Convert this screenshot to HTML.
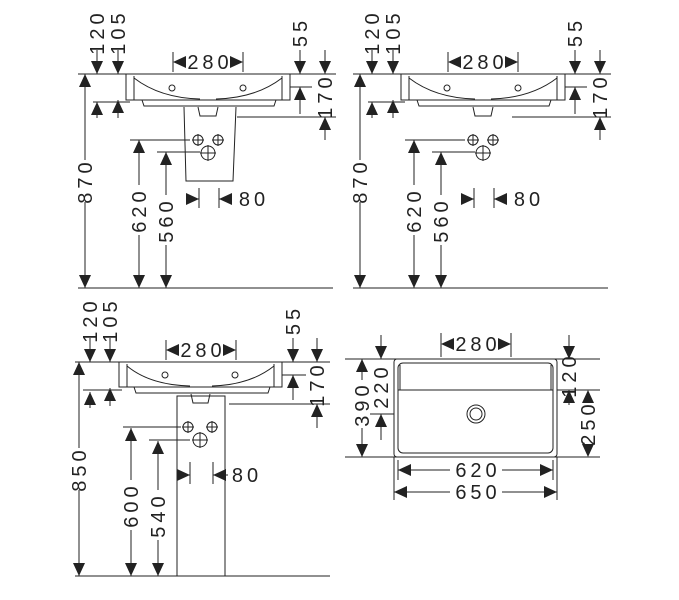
<!DOCTYPE html>
<html><head><meta charset="utf-8"><style>
html,body{margin:0;padding:0;background:#fff}
svg{display:block}
text{font-family:"Liberation Sans",sans-serif;font-size:20px;letter-spacing:4px;fill:#222}
</style></head><body>
<svg width="679" height="600" viewBox="0 0 679 600" xmlns="http://www.w3.org/2000/svg">
<defs>
<path id="a" d="M-6,-13 L6,-13 L0,0Z" fill="#222"/>
</defs>
<g stroke="#222" stroke-width="1" fill="none">
<g id="p1base">
<line x1="78" y1="74" x2="336" y2="74"/>
<rect x="126" y="74" width="164" height="26" fill="#fff"/>
<line x1="134" y1="76" x2="134" y2="100"/><line x1="282" y1="76" x2="282" y2="100"/>
<path d="M134,78 Q160,98 200,99 M282,78 Q256,98 216,99"/>
<path d="M142,100 L144,106 L274,106 L276,100"/>
<path d="M198,107 L200,116 L216,116 L218,107"/>
<circle cx="172" cy="88" r="3"/><circle cx="243" cy="88" r="3"/>
<line x1="93" y1="102" x2="130" y2="102"/>
<line x1="290" y1="87" x2="312" y2="87"/>
<line x1="237" y1="117" x2="336" y2="117"/>
<line x1="78" y1="288" x2="333" y2="288"/>
<line x1="130" y1="140" x2="190" y2="140"/>
<line x1="157" y1="152" x2="200" y2="152"/>
<circle cx="198" cy="140" r="5"/><path d="M192,140h12M198,134v12"/>
<circle cx="218" cy="140" r="5"/><path d="M212,140h12M218,134v12"/>
<circle cx="208" cy="153" r="7"/><path d="M200,153h16M208,145v16"/>
<line x1="199" y1="188" x2="199" y2="208"/><line x1="219" y1="188" x2="219" y2="208"/>
<line x1="187" y1="199" x2="199" y2="199"/><line x1="219" y1="199" x2="232" y2="199"/>
<line x1="173" y1="52" x2="173" y2="72"/><line x1="243" y1="52" x2="243" y2="72"/>
<line x1="97" y1="50" x2="97" y2="74"/><line x1="118" y1="50" x2="118" y2="74"/>
<line x1="97" y1="102" x2="97" y2="118"/><line x1="118" y1="100" x2="118" y2="118"/>
<line x1="300" y1="50" x2="300" y2="74"/><line x1="325" y1="50" x2="325" y2="74"/>
<line x1="300" y1="87" x2="300" y2="114"/><line x1="325" y1="117" x2="325" y2="140"/>
<line x1="85" y1="74" x2="85" y2="160"/><line x1="85" y1="202" x2="85" y2="288"/>
<line x1="139" y1="140" x2="139" y2="185"/><line x1="139" y1="235" x2="139" y2="288"/>
<line x1="166" y1="152" x2="166" y2="195"/><line x1="166" y1="245" x2="166" y2="288"/>
</g>
<path d="M184,107 L186,181 L233,181 L236,107"/>
<use href="#p1base" transform="translate(275,0)"/>
<line x1="75" y1="362" x2="330" y2="362"/>
<rect x="119" y="362" width="163" height="25" fill="#fff"/>
<line x1="127" y1="364" x2="127" y2="387"/><line x1="274" y1="364" x2="274" y2="387"/>
<path d="M127,366 Q150,385 190,386 M274,366 Q250,385 212,386"/>
<path d="M134,387 L136,393 L268,393 L270,387"/>
<path d="M191,394 L193,403 L208,403 L210,394"/>
<circle cx="165" cy="375" r="3"/><circle cx="235" cy="375" r="3"/>
<rect x="177" y="396" width="48" height="180" fill="none"/>
<line x1="75" y1="576" x2="330" y2="576"/>
<line x1="83" y1="390" x2="122" y2="390"/>
<line x1="282" y1="375" x2="306" y2="375"/>
<line x1="229" y1="404" x2="330" y2="404"/>
<line x1="123" y1="427" x2="181" y2="427"/>
<line x1="149" y1="440" x2="190" y2="440"/>
<circle cx="188" cy="427" r="5"/><path d="M182,427h12M188,421v12"/>
<circle cx="212" cy="427" r="5"/><path d="M206,427h12M212,421v12"/>
<circle cx="200" cy="440" r="7"/><path d="M192,440h16M200,432v16"/>
<line x1="190" y1="462" x2="190" y2="484"/><line x1="213" y1="462" x2="213" y2="484"/>
<line x1="178" y1="475" x2="190" y2="475"/><line x1="213" y1="475" x2="228" y2="475"/>
<line x1="166" y1="340" x2="166" y2="360"/><line x1="236" y1="340" x2="236" y2="360"/>
<line x1="90" y1="338" x2="90" y2="362"/><line x1="110" y1="338" x2="110" y2="362"/>
<line x1="90" y1="392" x2="90" y2="408"/><line x1="110" y1="388" x2="110" y2="406"/>
<line x1="293" y1="338" x2="293" y2="362"/><line x1="317" y1="338" x2="317" y2="362"/>
<line x1="293" y1="375" x2="293" y2="400"/><line x1="317" y1="404" x2="317" y2="428"/>
<line x1="79" y1="362" x2="79" y2="448"/><line x1="79" y1="490" x2="79" y2="576"/>
<line x1="131" y1="428" x2="131" y2="480"/><line x1="131" y1="530" x2="131" y2="576"/>
<line x1="158" y1="441" x2="158" y2="490"/><line x1="158" y1="540" x2="158" y2="576"/>
<rect x="394" y="359" width="163" height="98" rx="3"/>
<rect x="398" y="363" width="155" height="90" rx="5"/>
<line x1="398" y1="390" x2="553" y2="390"/>
<line x1="400" y1="365" x2="400" y2="390"/><line x1="551" y1="365" x2="551" y2="390"/>
<circle cx="476" cy="414" r="9"/><circle cx="476" cy="414" r="6"/>
<line x1="345" y1="359" x2="600" y2="359"/>
<line x1="345" y1="457" x2="600" y2="457"/>
<line x1="557" y1="390" x2="600" y2="390"/>
<line x1="370" y1="414" x2="394" y2="414"/>
<line x1="441" y1="333" x2="441" y2="357"/><line x1="511" y1="333" x2="511" y2="357"/>
<line x1="394" y1="457" x2="394" y2="500"/><line x1="557" y1="457" x2="557" y2="500"/>
<line x1="398" y1="460" x2="398" y2="480"/><line x1="553" y1="460" x2="553" y2="480"/>
<line x1="398" y1="470" x2="450" y2="470"/><line x1="502" y1="470" x2="553" y2="470"/>
<line x1="394" y1="492" x2="450" y2="492"/><line x1="502" y1="492" x2="557" y2="492"/>
<line x1="362" y1="359" x2="362" y2="380"/><line x1="362" y1="428" x2="362" y2="457"/>
<line x1="381" y1="335" x2="381" y2="359"/><line x1="381" y1="414" x2="381" y2="440"/>
<line x1="569" y1="335" x2="569" y2="359"/><line x1="569" y1="390" x2="569" y2="405"/>
</g>
<g>
<use href="#a" transform="translate(97,74)"/><use href="#a" transform="translate(118,74)"/>
<use href="#a" transform="translate(97,102) rotate(180)"/><use href="#a" transform="translate(118,100) rotate(180)"/>
<use href="#a" transform="translate(173,62) rotate(90)"/><use href="#a" transform="translate(243,62) rotate(-90)"/>
<use href="#a" transform="translate(300,74)"/><use href="#a" transform="translate(325,74)"/>
<use href="#a" transform="translate(300,87) rotate(180)"/><use href="#a" transform="translate(325,117) rotate(180)"/>
<use href="#a" transform="translate(85,74) rotate(180)"/><use href="#a" transform="translate(85,288)"/>
<use href="#a" transform="translate(139,140) rotate(180)"/><use href="#a" transform="translate(139,288)"/>
<use href="#a" transform="translate(166,152) rotate(180)"/><use href="#a" transform="translate(166,288)"/>
<use href="#a" transform="translate(199,199) rotate(-90)"/><use href="#a" transform="translate(219,199) rotate(90)"/>
<g transform="translate(275,0)">
<use href="#a" transform="translate(97,74)"/><use href="#a" transform="translate(118,74)"/>
<use href="#a" transform="translate(97,102) rotate(180)"/><use href="#a" transform="translate(118,100) rotate(180)"/>
<use href="#a" transform="translate(173,62) rotate(90)"/><use href="#a" transform="translate(243,62) rotate(-90)"/>
<use href="#a" transform="translate(300,74)"/><use href="#a" transform="translate(325,74)"/>
<use href="#a" transform="translate(300,87) rotate(180)"/><use href="#a" transform="translate(325,117) rotate(180)"/>
<use href="#a" transform="translate(85,74) rotate(180)"/><use href="#a" transform="translate(85,288)"/>
<use href="#a" transform="translate(139,140) rotate(180)"/><use href="#a" transform="translate(139,288)"/>
<use href="#a" transform="translate(166,152) rotate(180)"/><use href="#a" transform="translate(166,288)"/>
<use href="#a" transform="translate(199,199) rotate(-90)"/><use href="#a" transform="translate(219,199) rotate(90)"/>
</g>
<use href="#a" transform="translate(90,362)"/><use href="#a" transform="translate(110,362)"/>
<use href="#a" transform="translate(90,392) rotate(180)"/><use href="#a" transform="translate(110,388) rotate(180)"/>
<use href="#a" transform="translate(166,350) rotate(90)"/><use href="#a" transform="translate(236,350) rotate(-90)"/>
<use href="#a" transform="translate(293,362)"/><use href="#a" transform="translate(317,362)"/>
<use href="#a" transform="translate(293,375) rotate(180)"/><use href="#a" transform="translate(317,404) rotate(180)"/>
<use href="#a" transform="translate(79,362) rotate(180)"/><use href="#a" transform="translate(79,576)"/>
<use href="#a" transform="translate(131,428) rotate(180)"/><use href="#a" transform="translate(131,576)"/>
<use href="#a" transform="translate(158,441) rotate(180)"/><use href="#a" transform="translate(158,576)"/>
<use href="#a" transform="translate(190,475) rotate(-90)"/><use href="#a" transform="translate(213,475) rotate(90)"/>
<use href="#a" transform="translate(441,344) rotate(90)"/><use href="#a" transform="translate(511,344) rotate(-90)"/>
<use href="#a" transform="translate(362,359) rotate(180)"/><use href="#a" transform="translate(362,457)"/>
<use href="#a" transform="translate(381,359)"/><use href="#a" transform="translate(381,414) rotate(180)"/>
<use href="#a" transform="translate(569,359)"/><use href="#a" transform="translate(569,390) rotate(180)"/>
<use href="#a" transform="translate(588,390) rotate(180)"/><use href="#a" transform="translate(588,457)"/>
<use href="#a" transform="translate(398,470) rotate(90)"/><use href="#a" transform="translate(553,470) rotate(-90)"/>
<use href="#a" transform="translate(394,492) rotate(90)"/><use href="#a" transform="translate(557,492) rotate(-90)"/>
</g>
<g text-anchor="middle">
<text x="210" y="69">280</text>
<text x="485" y="69">280</text>
<text x="203" y="357">280</text>
<text x="478" y="351">280</text>
<text x="254" y="206">80</text>
<text x="529" y="206">80</text>
<text x="247" y="482">80</text>
<text x="478" y="477">620</text>
<text x="478" y="499">650</text>
<text transform="translate(104,32) rotate(-90)">120</text>
<text transform="translate(125,32) rotate(-90)">105</text>
<text transform="translate(307,32) rotate(-90)">55</text>
<text transform="translate(332,96) rotate(-90)">170</text>
<text transform="translate(92,181) rotate(-90)">870</text>
<text transform="translate(146,210) rotate(-90)">620</text>
<text transform="translate(173,220) rotate(-90)">560</text>
<g transform="translate(275,0)">
<text transform="translate(104,32) rotate(-90)">120</text>
<text transform="translate(125,32) rotate(-90)">105</text>
<text transform="translate(307,32) rotate(-90)">55</text>
<text transform="translate(332,96) rotate(-90)">170</text>
<text transform="translate(92,181) rotate(-90)">870</text>
<text transform="translate(146,210) rotate(-90)">620</text>
<text transform="translate(173,220) rotate(-90)">560</text>
</g>
<text transform="translate(97,320) rotate(-90)">120</text>
<text transform="translate(117,320) rotate(-90)">105</text>
<text transform="translate(300,320) rotate(-90)">55</text>
<text transform="translate(324,384) rotate(-90)">170</text>
<text transform="translate(86,469) rotate(-90)">850</text>
<text transform="translate(138,505) rotate(-90)">600</text>
<text transform="translate(165,515) rotate(-90)">540</text>
<text transform="translate(369,404) rotate(-90)">390</text>
<text transform="translate(388,386) rotate(-90)">220</text>
<text transform="translate(576,375) rotate(-90)">120</text>
<text transform="translate(595,423) rotate(-90)">250</text>
</g>
</svg>
</body></html>
